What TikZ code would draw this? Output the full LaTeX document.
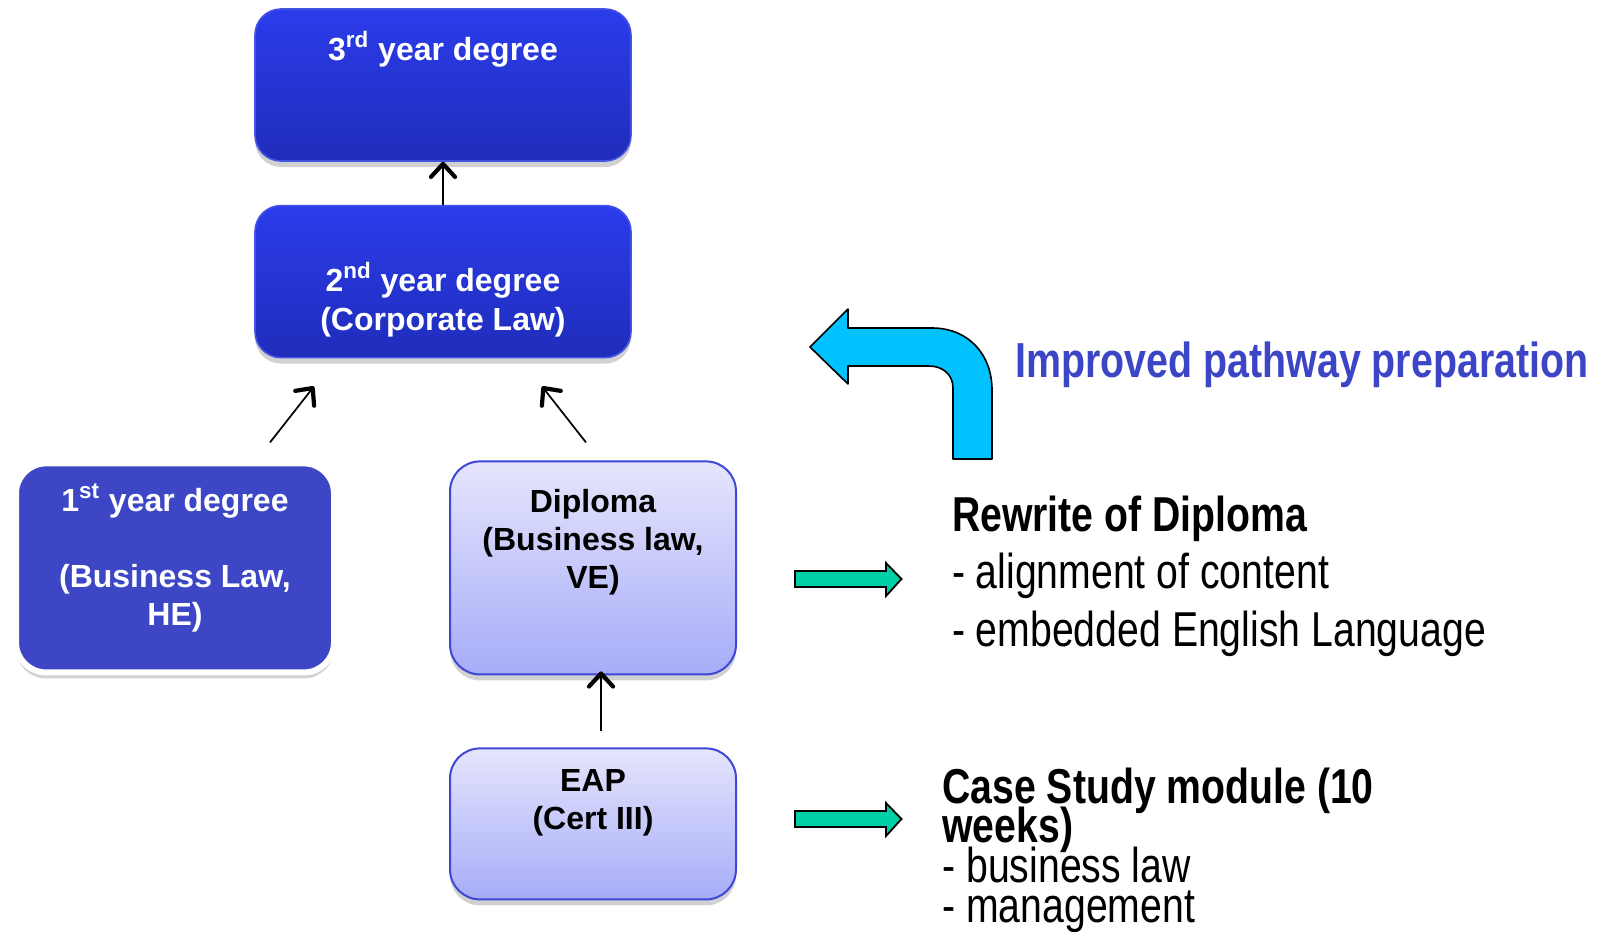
\documentclass[tikz,border=0pt]{standalone}
\usepackage{fontspec}
\setmainfont{Liberation Sans}
\newfontfamily\narrowfont[FakeStretch=0.8]{Liberation Sans}
\usetikzlibrary{arrows.meta,positioning,shadows}
\definecolor{DegTop}{HTML}{2B3CEB}
\definecolor{DegBot}{HTML}{1F2DBA}
\definecolor{DegLine}{HTML}{4453E6}
\definecolor{FirstFill}{HTML}{3D47C6}
\definecolor{SoftTop}{HTML}{E5E5FC}
\definecolor{SoftBot}{HTML}{A7ACF8}
\definecolor{SoftLine}{HTML}{3E47D6}
\definecolor{Sky}{HTML}{00C2FF}
\definecolor{Teal}{HTML}{00CFA6}
\definecolor{Headline}{HTML}{3B45C6}
\tikzset{
  boxshadow/.style={drop shadow={shadow xshift=0pt,shadow yshift=-3pt,fill=black!18,opacity=1}},
  degbox/.style={boxshadow,draw=DegLine,line width=0.8pt,top color=DegTop,bottom color=DegBot,rounded corners=13pt,minimum width=188pt,minimum height=76pt,align=center,text=white,font=\fontsize{16pt}{19.5pt}\selectfont\bfseries},
  firstbox/.style={boxshadow,draw=white,line width=3pt,fill=FirstFill,rounded corners=15pt,minimum width=159pt,minimum height=104.5pt,align=center,text=white,font=\fontsize{16pt}{19pt}\selectfont\bfseries},
  softbox/.style={boxshadow,draw=SoftLine,line width=1pt,top color=SoftTop,bottom color=SoftBot,rounded corners=15pt,minimum width=143pt,align=center,text=black,font=\fontsize{16pt}{19pt}\selectfont\bfseries},
  line/.style={-{Straight Barb[length=6.5pt,width=12pt,line width=2.1pt,round]},line width=0.85pt},
  bendarrow/.style={draw=black,line width=0.8pt,fill=Sky,line join=round},
  flatarrow/.style={draw=black,line width=0.9pt,fill=Teal},
  headline/.style={font=\narrowfont\fontsize{24.6pt}{30pt}\selectfont\bfseries,text=Headline,inner sep=0pt},
  note/.style={font=\narrowfont\fontsize{24.5pt}{28.6pt}\selectfont,align=left,inner sep=0pt},
  tightnote/.style={note,font={\narrowfont\fontsize{24.5pt}{19.8pt}\selectfont\lineskiplimit-50pt\relax}}
}
\begin{document}
\begin{tikzpicture}
  \useasboundingbox (0,0) rectangle (798.5pt,-466pt);
  \node[degbox] (y3) at (221.5pt,-42.5pt) {3\textsuperscript{rd} year degree\\\mbox{}\\\mbox{}};
  \node[degbox,below=21.5pt of y3] (y2) {\mbox{}\\[13pt]2\textsuperscript{nd} year degree\\(Corporate Law)};
  \node[softbox,minimum height=106.5pt,below=51pt of y2,xshift=75pt] (dip) {Diploma\\(Business law,\\VE)\\[10pt]\mbox{}};
  \node[firstbox,left=56pt of dip] (y1) {1\textsuperscript{st} year degree\\\mbox{}\\(Business Law,\\HE)\\[-6pt]\mbox{}};
  \node[softbox,minimum height=75.5pt,below=36pt of dip] (eap) {EAP\\(Cert III)\\[5pt]\mbox{}};
  \draw[line] (y2.north) -- (y3.south);
  \draw[line] ([xshift=47.5pt,yshift=9pt]y1.north) -- ([xshift=-64.5pt,yshift=-14pt]y2.south);
  \draw[line] ([xshift=-3.5pt,yshift=9pt]dip.north) -- ([xshift=49.5pt,yshift=-14pt]y2.south);
  \draw[line] ([xshift=4pt,yshift=8pt]eap.north) -- ([xshift=4pt,yshift=2pt]dip.south);
  % bent arrow and side arrows
  \draw[bendarrow] (405pt,-173.5pt) -- (424pt,-154.5pt) -- (424pt,-164pt) -- (466pt,-164pt)
    .. controls (484pt,-164pt) and (496pt,-177pt) .. (496pt,-195pt) -- (496pt,-229.5pt)
    -- (476.5pt,-229.5pt) -- (476.5pt,-194pt)
    .. controls (476.5pt,-187pt) and (471pt,-183pt) .. (464.5pt,-183pt)
    -- (424pt,-183pt) -- (424pt,-192pt) -- cycle;
  \draw[flatarrow] (397.5pt,-285.5pt) -- (443pt,-285.5pt) -- (443pt,-281.5pt) -- (450.75pt,-289.5pt)
    -- (443pt,-298pt) -- (443pt,-293.5pt) -- (397.5pt,-293.5pt) -- cycle;
  \draw[flatarrow] (397.5pt,-405.5pt) -- (443pt,-405.5pt) -- (443pt,-401.5pt) -- (450.75pt,-409.5pt)
    -- (443pt,-418pt) -- (443pt,-413.5pt) -- (397.5pt,-413.5pt) -- cycle;
  \node[headline,anchor=base west] (pathway) at (507.5pt,-188.5pt) {Improved pathway preparation};
  \node[note,anchor=base west] (rewrite) at (475.8pt,-323pt) {\textbf{Rewrite of Diploma}\\- alignment of content\\- embedded English Language};
  \node[tightnote,anchor=base west] (casestudy) at (471pt,-461pt) {\textbf{Case Study module (10}\\\textbf{weeks)}\\- business law\\- management};
\end{tikzpicture}
\end{document}
